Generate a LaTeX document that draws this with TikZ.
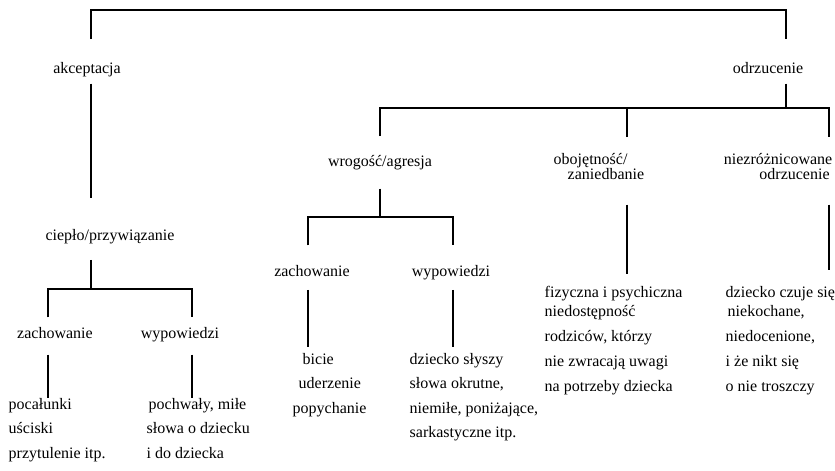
\documentclass[tikz,border=0pt]{standalone}
\usepackage{fontspec}
\setmainfont{Liberation Serif}

\begin{document}
\begin{tikzpicture}[x=0.75pt,y=-0.75pt,line width=1.1pt,
	font=\fontsize{12}{14}\selectfont,
	lbl/.style={inner sep=0pt,text height=8.5pt,text depth=3pt},
	blk/.style={inner sep=0pt,anchor=north west,align=left,font=\fontsize{12}{18.4}\selectfont},
	blkb/.style={blk,font=\fontsize{12}{14.25}\selectfont}]
	\useasboundingbox (0,0) rectangle (835,471);

	\node (akc) [lbl] at (87,70) {akceptacja};
	\node (odr) [lbl] at (768,70) {odrzucenie};
	\node (cie) [lbl] at (110,237) {ciepło/przywiązanie};
	\node (wro) [lbl] at (380,163) {wrogość/agresja};
	\node (obo) [blk,font=\fontsize{12}{11.25}\selectfont] at (553,152.5) {obojętność/\\\hspace*{10.5pt}zaniedbanie};
	\node (nie) [blk,anchor=north east,align=right,font=\fontsize{12}{11.25}\selectfont] at (833,152.5) {niezróżnicowane\\odrzucenie\hspace*{2pt}};

	\node (zl) [lbl] at (55,335) {zachowanie};
	\node (wl) [lbl] at (180,335) {wypowiedzi};
	\node (zm) [lbl] at (312,273) {zachowanie};
	\node (wm) [lbl] at (451,273) {wypowiedzi};

	\node (pl) [blk] at (8,397.5) {pocałunki\\uściski\\przytulenie itp.};
	\node (ql) [blk] at (146,397.5) {\hspace*{1.5pt}pochwały, miłe\\słowa o dziecku\\i do dziecka};
	\node (bl) [blk] at (292,352.5) {\hspace*{7.5pt}bicie\\\hspace*{4.5pt}uderzenie\\popychanie};
	\node (sl) [blk] at (409,352.5) {dziecko słyszy\\słowa okrutne,\\niemiłe, poniżające,\\sarkastyczne itp.};
	\node (fl) [blkb] at (544,285.5) {fizyczna i psychiczna\\niedostępność\\[4.5pt]rodziców, którzy\\[4.5pt]nie zwracają uwagi\\[4.5pt]na potrzeby dziecka};
	\node (dl) [blkb] at (725,285.5) {dziecko czuje się\\\hspace*{1.5pt}niekochane,\\[4.5pt]niedocenione,\\[4.5pt]i że nikt się\\[4.5pt]o nie troszczy};

	\coordinate (t1) at (91,10);
	\coordinate (t2) at (786,10);
	\coordinate (c1) at (91,289);
	\coordinate (c2) at (48,289);
	\coordinate (c3) at (192,289);
	\coordinate (o1) at (786,108);
	\coordinate (o2) at (380,108);
	\coordinate (o3) at (627,108);
	\coordinate (o4) at (829,108);
	\coordinate (w1) at (380,217);
	\coordinate (w2) at (308,217);
	\coordinate (w3) at (453,217);

	\draw[shorten <=16.8pt,shorten >=16.8pt] (akc.north -| t1) -- (t1) -- (t2) -- (odr.north -| t2);
	\draw[shorten <=4pt,shorten >=22.8pt] (akc.south -| t1) -- (cie.north -| t1);
	\draw[shorten <=10.8pt] (cie.south -| c1) -- (c1);
	\draw[shorten <=7pt,shorten >=7pt] (zl.north -| c2) -- (c2) -- (c3) -- (wl.north -| c3);
	\draw[shorten <=8.5pt] (zl.south -| c2) -- (pl.north -| c2);
	\draw[shorten <=8.5pt] (wl.south -| c3) -- (ql.north -| c3);

	\draw[shorten <=4pt] (odr.south -| o1) -- (o1);
	\draw[shorten <=13.8pt,shorten >=11.6pt] (wro.north -| o2) -- (o2) -- (o4) -- (nie.north -| o4);
	\draw[shorten <=11.6pt] (obo.north -| o3) -- (o3);
	\draw[shorten <=13pt] (wro.south -| w1) -- (w1);
	\draw[shorten <=14.5pt,shorten >=14.5pt] (zm.north -| w2) -- (w2) -- (w3) -- (wm.north -| w3);
	\draw[shorten <=6.3pt,shorten >=4.1pt] (zm.south -| w2) -- (bl.north -| w2);
	\draw[shorten <=6.3pt,shorten >=4.1pt] (wm.south -| w3) -- (sl.north -| w3);
	\draw[shorten <=18.3pt,shorten >=8.6pt] (obo.south -| o3) -- (fl.north -| o3);
	\draw[shorten <=18.3pt,shorten >=11.6pt] (nie.south -| o4) -- (dl.north -| o4);
\end{tikzpicture}
\end{document}
